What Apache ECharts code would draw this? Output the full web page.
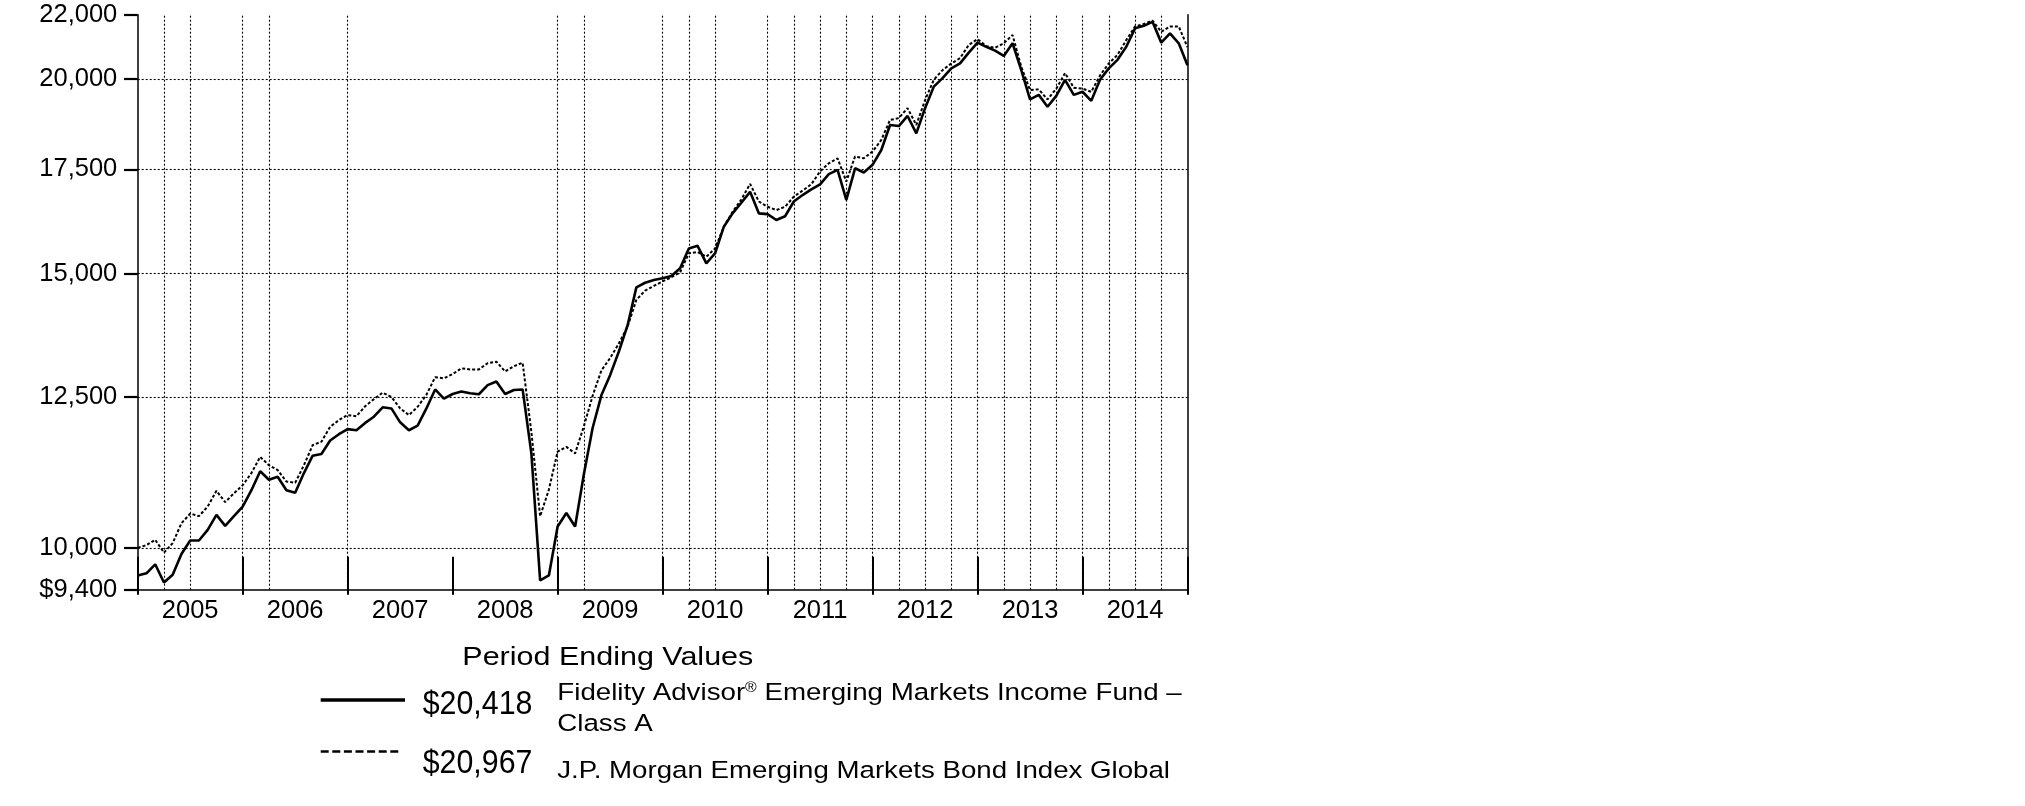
<!DOCTYPE html>
<html>
<head>
<meta charset="utf-8">
<script src="https://cdn.jsdelivr.net/npm/echarts@6/dist/echarts.min.js"></script>
<style>
  html, body { margin: 0; padding: 0; background: #fff; }
  #chart { width: 2025px; height: 806px; }
</style>
</head>
<body>
<div id="chart"></div>
<script>
// ---------------- data ----------------
// monthly values, index 0 = Dec 2004 ... index 120 = Dec 2014
const years = ['2005','2006','2007','2008','2009','2010','2011','2012','2013','2014'];

const fundValues = [
  9600, 9630, 9760, 9500, 9610, 9910, 10110, 10110, 10270, 10500, 10330, 10480,
  10630, 10890, 11200, 11060, 11110, 10890, 10850, 11170, 11460, 11490, 11720, 11830,
  11920, 11900, 12030, 12140, 12310, 12290, 12040, 11900, 11980, 12290, 12640, 12470,
  12555, 12600, 12570, 12550, 12720, 12790, 12555, 12630, 12640, 11500, 9530, 9600,
  10320, 10530, 10320, 11150, 11940, 12530, 12910, 13370, 13900, 14700, 14800, 14860,
  14900, 14950, 15120, 15570, 15630, 15230, 15460, 16080, 16400, 16660, 16930, 16400,
  16380, 16240, 16330, 16690, 16850, 16990, 17120, 17380, 17490, 16730, 17530, 17420,
  17620, 18010, 18690, 18660, 18940, 18460, 19160, 19780, 20030, 20320, 20470, 20800,
  21110, 20980, 20860, 20700, 21090, 20270, 19410, 19540, 19200, 19510, 19980, 19540,
  19630, 19370, 19980, 20320, 20580, 20980, 21560, 21640, 21770, 21110, 21400, 21090,
  20418
];

const indexValues = [
  10000, 10040, 10120, 9930, 10070, 10370, 10520, 10480, 10630, 10880, 10700, 10840,
  10970, 11170, 11440, 11300, 11220, 11030, 11010, 11300, 11640, 11700, 11960, 12080,
  12170, 12150, 12330, 12460, 12580, 12500, 12290, 12170, 12320, 12540, 12870, 12850,
  12930, 13040, 13020, 13020, 13140, 13170, 12980, 13080, 13150, 11870, 10480, 10900,
  11530, 11610, 11500, 11970, 12520, 13000, 13240, 13530, 13870, 14430, 14630, 14730,
  14830, 14920, 15030, 15460, 15490, 15380, 15570, 16080, 16440, 16740, 17130, 16690,
  16560, 16480, 16560, 16810, 16960, 17120, 17450, 17660, 17790, 17190, 17840, 17790,
  17970, 18280, 18830, 18880, 19160, 18690, 19390, 19980, 20270, 20470, 20630, 21040,
  21220, 21000, 20950, 21090, 21350, 20370, 19680, 19700, 19410, 19720, 20180, 19750,
  19720, 19630, 20110, 20470, 20730, 21190, 21620, 21700, 21810, 21450, 21620, 21620,
  20967
];

const yTickValues = [9400, 10000, 12500, 15000, 17500, 20000, 22000];
const yGridValues = [10000, 12500, 15000, 17500, 20000];
// months (since Dec 2004) that carry a dotted vertical grid line in the reference
const xGridMonths = [3, 6, 12, 15, 24, 48, 51, 60, 63, 66, 72, 75, 78, 81, 84, 87, 90,
  93, 96, 99, 102, 105, 108, 111, 114, 117];

const legendTitle = 'Period Ending Values';
const fundNameLines = ['Fidelity Advisor{sup|®} Emerging Markets Income Fund –', 'Class A'];
const indexName = 'J.P. Morgan Emerging Markets Bond Index Global';

// ---------------- chart ----------------
const FONT = '"Liberation Sans", Arial, Helvetica, sans-serif';
const fmt = v => v.toLocaleString('en-US');
const toXY = arr => arr.map((v, i) => [i, v]);

const mctx = document.createElement('canvas').getContext('2d');
function textWidth(t, size) { mctx.font = size + 'px ' + FONT; return mctx.measureText(t).width; }

const fundLast = '$' + fmt(fundValues[fundValues.length - 1]);
const indexLast = '$' + fmt(indexValues[indexValues.length - 1]);

const VAL_SIZE = 34, NAME_SIZE = 24.5, TITLE_SIZE = 26.5, SUP_SIZE = 14;
const valScale = 109.7 / textWidth(fundLast, VAL_SIZE);
const name1Plain = fundNameLines[0].replace('{sup|®}', '');
const name1W = textWidth(name1Plain, NAME_SIZE) + textWidth('®', SUP_SIZE);
const nameScale1 = 624.4 / name1W;
const nameScale2 = 612.7 / textWidth(indexName, NAME_SIZE);
const titleScale = 291 / textWidth(legendTitle, TITLE_SIZE);

const chart = echarts.init(document.getElementById('chart'), null, { renderer: 'canvas' });

const gridLine = { type: [2, 2], color: '#000', width: 1.1 };

chart.setOption({
  animation: false,
  backgroundColor: '#fff',
  grid: { left: 137.7, top: 14.7, width: 1049.8, height: 575, containLabel: false },
  xAxis: [
    { type: 'value', min: 0, max: 120, show: false },
    {
      type: 'category', data: years, position: 'bottom', boundaryGap: true,
      axisLine: { show: true, lineStyle: { color: '#000', width: 1.5 } },
      axisTick: { show: true, inside: true, length: 33, interval: 0, lineStyle: { color: '#000', width: 2 } },
      axisLabel: { show: true, interval: 0, margin: 20.8, verticalAlign: 'middle',
        fontFamily: FONT, fontSize: 25.5, color: '#000' },
      splitLine: { show: false }
    },
    {
      type: 'category', data: years, position: 'bottom', boundaryGap: true,
      axisLine: { show: false },
      axisTick: { show: true, inside: false, length: 5, interval: 0, lineStyle: { color: '#000', width: 2 } },
      axisLabel: { show: false },
      splitLine: { show: false }
    }
  ],
  yAxis: [
    {
      type: 'log', logBase: 10, min: 9400, max: 22000,
      axisLine: { show: true, lineStyle: { color: '#000', width: 1.5 } },
      axisTick: { show: true, length: 13.7, customValues: yTickValues, lineStyle: { color: '#000', width: 2.2 } },
      axisLabel: {
        show: true, customValues: yTickValues, margin: 20.4,
        fontFamily: FONT, fontSize: 25.5, color: '#000',
        formatter: v => (Math.abs(v - 9400) < 1 ? '$' : '') + fmt(Math.round(v))
      },
      splitLine: { show: false },
      minorSplitLine: { show: false }
    },
    {
      type: 'value', min: 0, max: 1, position: 'right',
      axisLine: { show: true, lineStyle: { color: '#000', width: 1.5 } },
      axisTick: { show: false }, axisLabel: { show: false }, splitLine: { show: false }
    }
  ],
  series: [
    {
      name: 'gridlines', type: 'line', xAxisIndex: 0, yAxisIndex: 0,
      data: toXY(fundValues), symbol: 'none', silent: true, z: 1,
      lineStyle: { opacity: 0 },
      markLine: {
        silent: true, symbol: ['none', 'none'], animation: false,
        label: { show: false }, emphasis: { disabled: true },
        lineStyle: gridLine,
        data: xGridMonths.map(m => ({ xAxis: m })).concat(yGridValues.map(v => ({ yAxis: v })))
      }
    },
    {
      name: indexName, type: 'line', xAxisIndex: 0, yAxisIndex: 0,
      data: toXY(indexValues), symbol: 'none', z: 3,
      lineStyle: { color: '#000', width: 2, type: [3, 2] }
    },
    {
      name: 'Fidelity Advisor® Emerging Markets Income Fund – Class A', type: 'line',
      xAxisIndex: 0, yAxisIndex: 0,
      data: toXY(fundValues), symbol: 'none', z: 4,
      lineStyle: { color: '#000', width: 2.6 }
    }
  ],
  graphic: [
    { type: 'text', x: 462.3, y: 657.8, scaleX: titleScale,
      style: { text: legendTitle, font: TITLE_SIZE + 'px ' + FONT, fill: '#000', align: 'left', verticalAlign: 'middle' } },
    { type: 'line', shape: { x1: 320.7, y1: 700, x2: 405, y2: 700 },
      style: { stroke: '#000', lineWidth: 3.3 } },
    { type: 'text', x: 422.7, y: 705, scaleX: valScale,
      style: { text: fundLast, font: VAL_SIZE + 'px ' + FONT, fill: '#000', align: 'left', verticalAlign: 'middle' } },
    { type: 'text', x: 557.3, y: 693.3, scaleX: nameScale1,
      style: { text: fundNameLines[0], font: NAME_SIZE + 'px ' + FONT, fill: '#000', align: 'left', verticalAlign: 'middle',
        rich: { sup: { fontSize: SUP_SIZE, fontFamily: FONT, fill: '#000', verticalAlign: 'top', padding: [0, 0, 8, 0] } } } },
    { type: 'text', x: 557.3, y: 724.5, scaleX: nameScale1,
      style: { text: fundNameLines[1], font: NAME_SIZE + 'px ' + FONT, fill: '#000', align: 'left', verticalAlign: 'middle' } },
    { type: 'line', shape: { x1: 320.7, y1: 751.5, x2: 400, y2: 751.5 },
      style: { stroke: '#000', lineWidth: 2.6, lineDash: [8, 3.6] } },
    { type: 'text', x: 422.7, y: 763.3, scaleX: valScale,
      style: { text: indexLast, font: VAL_SIZE + 'px ' + FONT, fill: '#000', align: 'left', verticalAlign: 'middle' } },
    { type: 'text', x: 557.3, y: 770.8, scaleX: nameScale2,
      style: { text: indexName, font: NAME_SIZE + 'px ' + FONT, fill: '#000', align: 'left', verticalAlign: 'middle' } }
  ]
});
</script>
</body>
</html>
